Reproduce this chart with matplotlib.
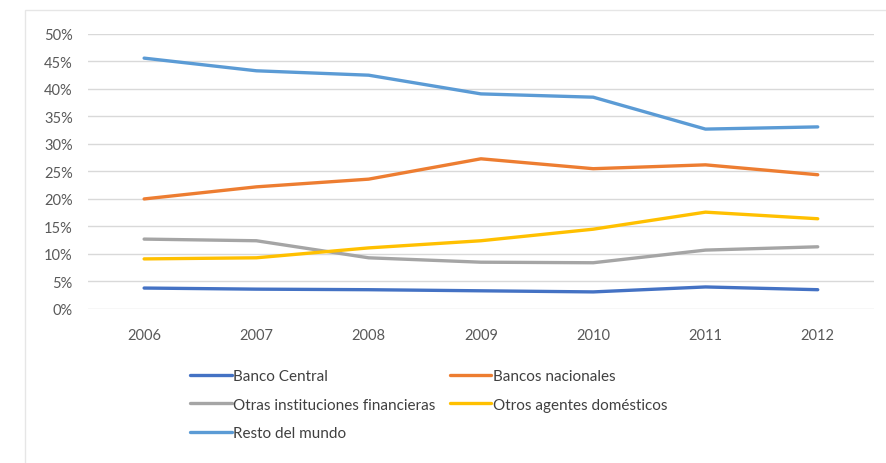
import matplotlib.pyplot as plt
from matplotlib.patches import Rectangle
from matplotlib.ticker import PercentFormatter

years = ['2006', '2007', '2008', '2009', '2010', '2011', '2012']

banco_central = [3.8, 3.6, 3.5, 3.3, 3.1, 4.0, 3.5]
bancos_nacionales = [20.0, 22.2, 23.6, 27.3, 25.5, 26.2, 24.4]
otras_instituciones = [12.7, 12.4, 9.3, 8.5, 8.4, 10.7, 11.3]
otros_agentes = [9.1, 9.3, 11.1, 12.4, 14.5, 17.6, 16.4]
resto_mundo = [45.6, 43.3, 42.5, 39.1, 38.5, 32.7, 33.1]

series = [
    ('Banco Central', banco_central, '#4472c4'),
    ('Bancos nacionales', bancos_nacionales, '#ed7d31'),
    ('Otras instituciones financieras', otras_instituciones, '#a5a5a5'),
    ('Otros agentes domésticos', otros_agentes, '#ffc000'),
    ('Resto del mundo', resto_mundo, '#5b9bd5'),
]

plt.rcParams['font.family'] = ['Lato', 'DejaVu Sans']

fig = plt.figure(figsize=(8.87, 4.64), dpi=100)
ax = fig.add_axes([0.0992, 0.332, 0.886, 0.5927])

lines = {}
for name, vals, color in series:
    ln, = ax.plot(range(len(years)), [v / 100 for v in vals], color=color,
                  linewidth=2.4, solid_capstyle='round', solid_joinstyle='round')
    lines[name] = ln

ax.set_xlim(-0.5, len(years) - 0.5)
ax.set_ylim(0, 0.5)
ax.set_yticks([i * 0.05 for i in range(11)])
ax.yaxis.set_major_formatter(PercentFormatter(1.0, decimals=0))
ax.set_xticks(range(len(years)))
ax.set_xticklabels(years)
ax.grid(axis='y', color='#d9d9d9', linewidth=1)
ax.set_axisbelow(True)
for s in ax.spines.values():
    s.set_visible(False)
ax.tick_params(length=0, labelsize=10.5, colors='#595959')
ax.tick_params(axis='y', pad=11)
ax.tick_params(axis='x', pad=14)

# Excel-style row-major legend order with two columns
order = ['Banco Central', 'Otras instituciones financieras', 'Resto del mundo',
         'Bancos nacionales', 'Otros agentes domésticos']
leg = fig.legend([lines[n] for n in order], order, ncol=2,
                 loc='upper left', bbox_to_anchor=(0.199, 0.232),
                 frameon=False, fontsize=11, handlelength=2.7,
                 handletextpad=0.1, columnspacing=0.95, labelspacing=0.95)
for t in leg.get_texts():
    t.set_color('#404040')

# faint chart-area border
fig.add_artist(Rectangle((0.028, -0.01), 0.98, 0.987, transform=fig.transFigure,
                         fill=False, edgecolor='#e6e6e6', linewidth=1))

fig.savefig('out.png', dpi=100, facecolor='white')
